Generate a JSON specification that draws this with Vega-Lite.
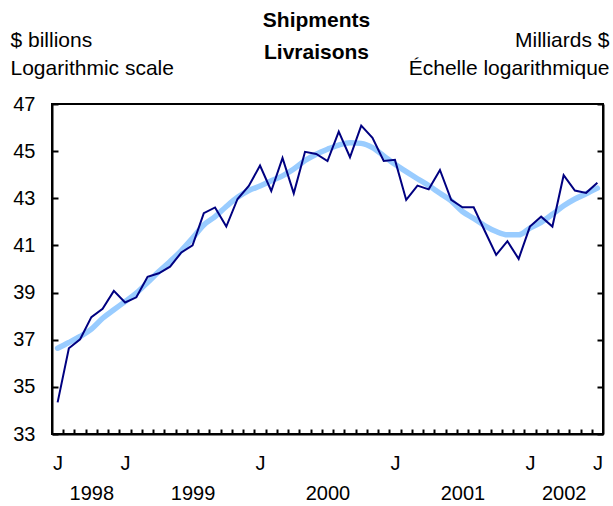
{
  "$schema": "https://vega.github.io/schema/vega-lite/v6.json",
  "width": 551,
  "height": 330,
  "autosize": {"type": "none"},
  "padding": {"left": 52, "top": 104, "right": 10, "bottom": 72},
  "background": "white",
  "config": {
    "font": "Liberation Sans",
    "view": {"stroke": "black", "strokeWidth": 2},
    "axis": {
      "domainColor": "black", "domainWidth": 2, "tickColor": "black", "tickWidth": 2,
      "labelColor": "black", "labelFont": "Liberation Sans", "labelFontSize": 20,
      "grid": false, "titleColor": "black", "titleFont": "Liberation Sans",
      "titleFontWeight": "normal", "titleFontSize": 21
    }
  },
  "title": {
    "text": ["Shipments", "Livraisons"],
    "frame": "group",
    "font": "Liberation Sans", "fontSize": 21, "fontWeight": "bold",
    "lineHeight": 32, "anchor": "middle", "offset": 0, "dy": 34, "dx": -11, "color": "black"
  },
  "data": {
    "values": [
      {"m": 0, "month": "1998-07", "actual": 34.34, "trend": 36.64},
      {"m": 1, "month": "1998-08", "actual": 36.64, "trend": 36.88},
      {"m": 2, "month": "1998-09", "actual": 37.02, "trend": 37.14},
      {"m": 3, "month": "1998-10", "actual": 37.96, "trend": 37.45},
      {"m": 4, "month": "1998-11", "actual": 38.31, "trend": 37.91},
      {"m": 5, "month": "1998-12", "actual": 39.07, "trend": 38.27},
      {"m": 6, "month": "1999-01", "actual": 38.58, "trend": 38.62},
      {"m": 7, "month": "1999-02", "actual": 38.80, "trend": 38.98},
      {"m": 8, "month": "1999-03", "actual": 39.67, "trend": 39.43},
      {"m": 9, "month": "1999-04", "actual": 39.82, "trend": 39.89},
      {"m": 10, "month": "1999-05", "actual": 40.10, "trend": 40.32},
      {"m": 11, "month": "1999-06", "actual": 40.70, "trend": 40.78},
      {"m": 12, "month": "1999-07", "actual": 41.00, "trend": 41.31},
      {"m": 13, "month": "1999-08", "actual": 42.37, "trend": 41.87},
      {"m": 14, "month": "1999-09", "actual": 42.61, "trend": 42.22},
      {"m": 15, "month": "1999-10", "actual": 41.80, "trend": 42.65},
      {"m": 16, "month": "1999-11", "actual": 42.97, "trend": 43.04},
      {"m": 17, "month": "1999-12", "actual": 43.52, "trend": 43.33},
      {"m": 18, "month": "2000-01", "actual": 44.39, "trend": 43.52},
      {"m": 19, "month": "2000-02", "actual": 43.31, "trend": 43.74},
      {"m": 20, "month": "2000-03", "actual": 44.71, "trend": 43.95},
      {"m": 21, "month": "2000-04", "actual": 43.21, "trend": 44.24},
      {"m": 22, "month": "2000-05", "actual": 44.97, "trend": 44.60},
      {"m": 23, "month": "2000-06", "actual": 44.88, "trend": 44.87},
      {"m": 24, "month": "2000-07", "actual": 44.58, "trend": 45.08},
      {"m": 25, "month": "2000-08", "actual": 45.83, "trend": 45.26},
      {"m": 26, "month": "2000-09", "actual": 44.74, "trend": 45.36},
      {"m": 27, "month": "2000-10", "actual": 46.08, "trend": 45.33},
      {"m": 28, "month": "2000-11", "actual": 45.57, "trend": 45.15},
      {"m": 29, "month": "2000-12", "actual": 44.58, "trend": 44.80},
      {"m": 30, "month": "2001-01", "actual": 44.63, "trend": 44.44},
      {"m": 31, "month": "2001-02", "actual": 42.93, "trend": 44.13},
      {"m": 32, "month": "2001-03", "actual": 43.54, "trend": 43.83},
      {"m": 33, "month": "2001-04", "actual": 43.38, "trend": 43.54},
      {"m": 34, "month": "2001-05", "actual": 44.20, "trend": 43.21},
      {"m": 35, "month": "2001-06", "actual": 42.93, "trend": 42.89},
      {"m": 36, "month": "2001-07", "actual": 42.62, "trend": 42.44},
      {"m": 37, "month": "2001-08", "actual": 42.62, "trend": 42.15},
      {"m": 38, "month": "2001-09", "actual": 41.60, "trend": 41.83},
      {"m": 39, "month": "2001-10", "actual": 40.60, "trend": 41.59},
      {"m": 40, "month": "2001-11", "actual": 41.18, "trend": 41.45},
      {"m": 41, "month": "2001-12", "actual": 40.43, "trend": 41.45},
      {"m": 42, "month": "2002-01", "actual": 41.80, "trend": 41.73},
      {"m": 43, "month": "2002-02", "actual": 42.22, "trend": 41.98},
      {"m": 44, "month": "2002-03", "actual": 41.80, "trend": 42.32},
      {"m": 45, "month": "2002-04", "actual": 43.98, "trend": 42.68},
      {"m": 46, "month": "2002-05", "actual": 43.33, "trend": 42.97},
      {"m": 47, "month": "2002-06", "actual": 43.23, "trend": 43.19},
      {"m": 48, "month": "2002-07", "actual": 43.66, "trend": 43.43}
    ]
  },
  "layer": [
    {
      "mark": {"type": "line", "color": "#99CCFF", "strokeWidth": 5.5, "interpolate": "monotone", "strokeCap": "round"},
      "encoding": {
        "x": {
          "field": "m", "type": "quantitative",
          "scale": {"domain": [-0.5, 48.5], "nice": false, "zero": false},
          "axis": {
            "orient": "bottom", "title": null, "labels": false, "tickSize": -5,
            "values": [0.5,1.5,2.5,3.5,4.5,5.5,6.5,7.5,8.5,9.5,10.5,11.5,12.5,13.5,14.5,15.5,16.5,17.5,18.5,19.5,20.5,21.5,22.5,23.5,24.5,25.5,26.5,27.5,28.5,29.5,30.5,31.5,32.5,33.5,34.5,35.5,36.5,37.5,38.5,39.5,40.5,41.5,42.5,43.5,44.5,45.5,46.5,47.5]
          }
        },
        "y": {
          "field": "trend", "type": "quantitative",
          "scale": {"domain": [33, 47], "nice": false, "zero": false},
          "axis": {
            "orient": "left", "values": [33,35,37,39,41,43,45,47], "tickSize": -6, "labelPadding": 23,
            "title": ["$ billions", "Logarithmic scale"], "titleAngle": 0, "titleAlign": "left",
            "titleBaseline": "alphabetic", "titleX": -42, "titleY": -58, "titleLineHeight": 28
          }
        }
      }
    },
    {
      "mark": {"type": "line", "color": "#000080", "strokeWidth": 2},
      "encoding": {
        "x": {
          "field": "m", "type": "quantitative",
          "axis": {
            "orient": "bottom", "title": null, "ticks": false, "domain": false, "tickSize": 0,
            "values": [0,3,6,12,18,24,30,36,42,45,48],
            "labelExpr": "datum.value == 3 ? [' ', '1998'] : datum.value == 12 ? [' ', '1999'] : datum.value == 24 ? [' ', '2000'] : datum.value == 36 ? [' ', '2001'] : datum.value == 45 ? [' ', '2002'] : 'J'",
            "labelPadding": 19, "labelLineHeight": 30, "labelOverlap": false, "labelFlush": false, "labelBaseline": "top"
          }
        },
        "y": {
          "field": "actual", "type": "quantitative",
          "axis": {
            "orient": "right", "values": [33,35,37,39,41,43,45,47], "labels": false, "tickSize": -6,
            "title": ["Milliards $", "Échelle logarithmique"], "titleAngle": 0, "titleAlign": "right",
            "titleBaseline": "alphabetic", "titleX": 6, "titleY": -58, "titleLineHeight": 28
          }
        }
      }
    }
  ],
  "resolve": {"axis": {"x": "independent", "y": "independent"}}
}
